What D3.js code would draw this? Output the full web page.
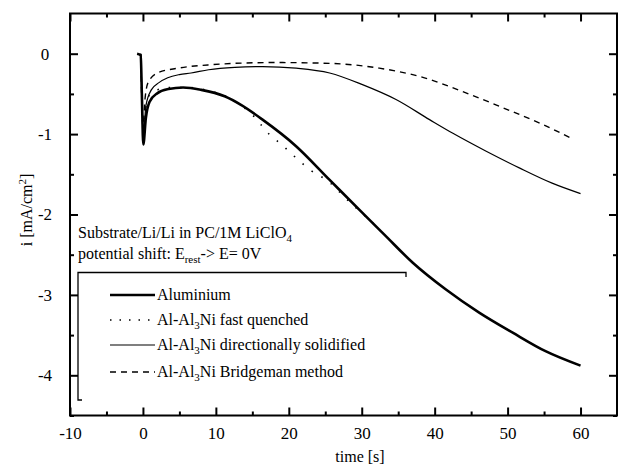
<!DOCTYPE html>
<html>
<head>
<meta charset="utf-8">
<script src="https://cdn.jsdelivr.net/npm/d3@7/dist/d3.min.js"></script>
<style>
  body { margin: 0; background: #fff; }
  svg { display: block; font-family: "Liberation Serif", "DejaVu Serif", serif; }
  .frame { fill: none; stroke: #000; stroke-width: 2; }
  .axis path { display: none; }
  .axis line { stroke: #000; stroke-width: 2; }
  .axis text { fill: #000; }
  .note { font-family: "Liberation Serif", serif; font-size: 16px; fill: #000; }
</style>
</head>
<body>
<svg width="618" height="471"></svg>
<script>
/* data: time [s] and current density [mA/cm2] */
const alT = [-0.8, -0.3, -0.15, 0.05, 0.4, 0.9, 2.0, 3.5, 5.5, 8, 11.2, 13.5, 16.4, 21, 25.6, 30.1, 33.1, 37, 41.5, 46.1, 50.7, 55.2, 60];
const alI = [0, -0.02, -0.5, -1.13, -0.8, -0.6, -0.49, -0.44, -0.42, -0.45, -0.53, -0.64, -0.82, -1.15, -1.57, -1.98, -2.25, -2.60, -2.93, -3.22, -3.47, -3.70, -3.88];

const fqT = [0.05, 0.5, 1.0, 2.0, 3.5, 6, 9, 12, 15, 17.3, 19, 20.8, 23, 25.6, 27.6, 31.7];
const fqI = [-1.1, -0.62, -0.5, -0.45, -0.42, -0.42, -0.46, -0.56, -0.76, -1.0, -1.13, -1.28, -1.45, -1.6, -1.78, -2.12];

const dsT = [-0.3, -0.1, 0.05, 0.4, 1.15, 2.2, 3.4, 5, 6.6, 9, 12.6, 16.4, 21, 25.6, 30.1, 34.7, 39.3, 42.5, 47, 51.6, 56.1, 60];
const dsI = [0, -0.6, -1.05, -0.65, -0.45, -0.36, -0.3, -0.26, -0.24, -0.2, -0.17, -0.16, -0.18, -0.24, -0.385, -0.57, -0.82, -0.99, -1.21, -1.42, -1.61, -1.74];

const bmT = [-0.3, 0.0, 0.3, 0.7, 2, 4.8, 8.9, 12.6, 18, 25.6, 32.4, 38.6, 43.8, 49.3, 54.8, 58.7];
const bmI = [0, -0.9, -0.55, -0.36, -0.24, -0.18, -0.14, -0.12, -0.11, -0.12, -0.18, -0.3, -0.47, -0.67, -0.88, -1.05];

const xMajor = [-10, 0, 10, 20, 30, 40, 50, 60];
const xMinor = [-5, 5, 15, 25, 35, 45, 55];
const yMajor = [-4, -3, -2, -1, 0];
const yMinor = [-4.5, -3.5, -2.5, -1.5, -0.5];

const seriesNames = ['Aluminium', 'fast quenched', 'directionally solidified', 'Bridgeman method'];

/* layout */
const plotL = 70, plotR = 617, plotT = 13.5, plotB = 415.5;

const svg = d3.select('svg');
const x = d3.scaleLinear().domain([-10, 65]).range([plotL, plotR]);
const y = d3.scaleLinear().domain([-4.5, 0.5]).range([plotB, plotT]);

const plain = (d) => String(d);   // keep an ascii hyphen as minus sign

function addAxis(axis, tx, ty) {
	return svg.append('g').attr('class', 'axis')
		.attr('transform', `translate(${tx},${ty})`)
		.call(axis)
		.attr('font-family', 'Liberation Serif, serif')
		.attr('font-size', 17);
}

/* axes, ticks pointing inward on all four sides */
addAxis(d3.axisBottom(x).tickValues(xMajor).tickSize(-8).tickPadding(11).tickFormat(plain), 0, plotB);
addAxis(d3.axisBottom(x).tickValues(xMinor).tickSize(-4).tickFormat(''), 0, plotB);
addAxis(d3.axisTop(x).tickValues(xMajor).tickSize(-8).tickFormat(''), 0, plotT);
addAxis(d3.axisTop(x).tickValues(xMinor).tickSize(-4).tickFormat(''), 0, plotT);

const yAxis = addAxis(d3.axisLeft(y).tickValues(yMajor).tickSize(-8).tickPadding(16).tickFormat(plain), plotL, 0);
yAxis.selectAll('text').attr('text-anchor', 'middle').attr('x', -25);
addAxis(d3.axisLeft(y).tickValues(yMinor).tickSize(-4).tickFormat(''), plotL, 0);
addAxis(d3.axisRight(y).tickValues(yMajor).tickSize(-8).tickFormat(''), plotR, 0);
addAxis(d3.axisRight(y).tickValues(yMinor).tickSize(-4).tickFormat(''), plotR, 0);

svg.append('rect').attr('class', 'frame')
	.attr('x', plotL).attr('y', plotT)
	.attr('width', plotR - plotL).attr('height', plotB - plotT);

/* curves */
const line = d3.line()
	.x((d) => x(d[0]))
	.y((d) => y(d[1]))
	.curve(d3.curveMonotoneX);

const styles = [
	{t: alT, i: alI, width: 2.6, dash: null},
	{t: fqT, i: fqI, width: 1.6, dash: '1.5,10'},
	{t: dsT, i: dsI, width: 1.2, dash: null},
	{t: bmT, i: bmI, width: 1.4, dash: '6,5'}
];

svg.append('g').selectAll('path')
	.data(styles)
	.enter().append('path')
	.attr('d', (s) => line(s.t.map((t, k) => [t, s.i[k]])))
	.attr('fill', 'none')
	.attr('stroke', '#000')
	.attr('stroke-width', (s) => s.width)
	.attr('stroke-dasharray', (s) => s.dash);

/* annotation */
const t1 = svg.append('text').attr('class', 'note').attr('x', 78).attr('y', 238);
t1.append('tspan').text('Substrate/Li/Li in PC/1M LiClO');
t1.append('tspan').attr('font-size', 11).attr('dy', 4).text('4');

const t2 = svg.append('text').attr('class', 'note').attr('x', 78).attr('y', 259);
t2.append('tspan').text('potential shift: E');
t2.append('tspan').attr('font-size', 11).attr('dy', 4).text('rest');
t2.append('tspan').attr('dy', -4).text('-> E= 0V');

/* legend box */
svg.append('path')
	.attr('d', 'M82,400H78V272.5H406V277')
	.attr('fill', 'none')
	.attr('stroke', '#000')
	.attr('stroke-width', 1.3);

const legendY = [295, 320, 345, 372];
const lg = svg.append('g').selectAll('g')
	.data(styles)
	.enter().append('g')
	.attr('transform', (s, k) => `translate(0,${legendY[k]})`);
lg.append('line')
	.attr('x1', 110).attr('x2', 155)
	.attr('stroke', '#000')
	.attr('stroke-width', (s) => s.width)
	.attr('stroke-dasharray', (s) => s.dash === '1.5,10' ? '1.5,8' : s.dash);
lg.each(function (s, k) {
	const t = d3.select(this).append('text').attr('class', 'note')
		.attr('x', 157).attr('y', 5);
	if (k === 0) {
		t.text(seriesNames[0]);
	} else {
		t.append('tspan').text('Al-Al');
		t.append('tspan').attr('font-size', 11).attr('dy', 4).text('3');
		t.append('tspan').attr('dy', -4).text('Ni ' + seriesNames[k]);
	}
});

/* axis titles */
svg.append('text').attr('class', 'note')
	.attr('x', 360).attr('y', 462)
	.attr('text-anchor', 'middle')
	.text('time [s]');

const yt = svg.append('text').attr('class', 'note')
	.attr('transform', 'translate(32,210) rotate(-90)')
	.attr('text-anchor', 'middle');
yt.append('tspan').text('i [mA/cm');
yt.append('tspan').attr('font-size', 11).attr('dy', -6).text('2');
yt.append('tspan').attr('dy', 6).text(']');
</script>
</body>
</html>
